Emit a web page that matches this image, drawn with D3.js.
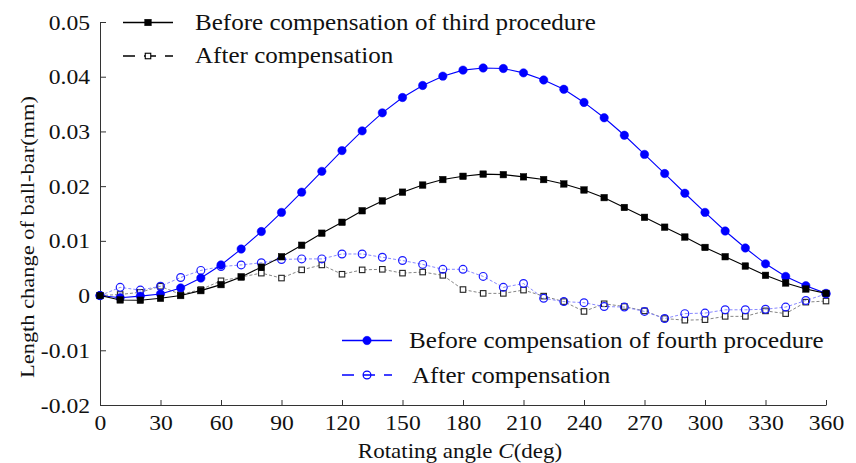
<!DOCTYPE html>
<html><head><meta charset="utf-8">
<script src="https://cdn.jsdelivr.net/npm/d3@7"></script>
<style>body{margin:0;background:#fff}svg{display:block}</style>
</head><body><svg id="c" width="856" height="463"></svg>
<script>
const angles = [0,10,20,30,40,50,60,70,80,90,100,110,120,130,140,150,160,170,180,190,200,210,220,230,240,250,260,270,280,290,300,310,320,330,340,350,360];
const before3 = [0,-0.0008,-0.00085,-0.0005,0.0,0.0009,0.002,0.0034,0.0052,0.0071,0.0092,0.0114,0.0134,0.0155,0.0173,0.0189,0.0202,0.0212,0.0218,0.0222,0.0221,0.0217,0.0212,0.0204,0.0193,0.0179,0.0161,0.0143,0.0125,0.0107,0.0088,0.0071,0.0054,0.0037,0.0023,0.0012,0.0004];
const after3 = [0,0.0002,0.0006,0.0017,0.0002,0.0011,0.0027,0.0034,0.0041,0.0032,0.0047,0.0056,0.0039,0.0047,0.0048,0.0041,0.0043,0.0037,0.0011,0.0004,0.0004,0.001,-0.0001,-0.0011,-0.0029,-0.0015,-0.002,-0.0028,-0.0042,-0.0045,-0.0044,-0.0038,-0.0038,-0.0028,-0.0033,-0.0012,-0.001];
const before4 = [0,-0.0004,-0.0001,0.0003,0.0014,0.0032,0.0056,0.0085,0.0117,0.0152,0.0189,0.0227,0.0265,0.0301,0.0334,0.0362,0.0384,0.0401,0.0412,0.0416,0.0415,0.0407,0.0394,0.0377,0.0353,0.0325,0.0293,0.0258,0.0223,0.0187,0.0152,0.0118,0.0087,0.0058,0.0035,0.0018,0.0004];
const after4 = [0,0.0015,0.001,0.0017,0.0033,0.0046,0.0053,0.0056,0.006,0.0066,0.0067,0.0067,0.0076,0.0076,0.007,0.0064,0.0057,0.0048,0.0048,0.0035,0.0015,0.0022,-0.0005,-0.0011,-0.0013,-0.002,-0.0021,-0.0029,-0.0042,-0.0033,-0.0032,-0.0026,-0.0026,-0.0025,-0.0021,-0.0009,0.0003];
const xTicks = [0,30,60,90,120,150,180,210,240,270,300,330,360];
const yTicks = [-0.02,-0.01,0,0.01,0.02,0.03,0.04,0.05];
const legendTop = ["Before compensation of third procedure","After compensation"];
const legendBottom = ["Before compensation of fourth procedure","After compensation"];

const FONT = '"Liberation Serif","Times New Roman",Times,serif';
const svg = d3.select("#c");
const x = d3.scaleLinear().domain([0,360]).range([100,826]);
const y = d3.scaleLinear().domain([-0.02,0.05]).range([405,22]);

// axes
const TICK_SX = 1.18;
const xAxis = d3.axisBottom(x).tickValues(xTicks).tickSizeInner(-5).tickSizeOuter(0).tickPadding(11).tickFormat(d3.format("d"));
const gx = svg.append("g").attr("transform","translate(0,405)").call(xAxis);
const yAxis = d3.axisLeft(y).tickValues(yTicks).tickSizeInner(-6).tickSizeOuter(0).tickPadding(8.5)
  .tickFormat(d=>d===0?"0":d3.format(".2f")(d).replace("\u2212","-"));
const gy = svg.append("g").attr("transform","translate(100,0)").call(yAxis);
[gx,gy].forEach(g=>{
  g.selectAll("path,line").attr("stroke","#333").attr("stroke-width",1);
  g.selectAll("text").style("font-family",FONT).style("font-size","20px").attr("fill","#111").attr("transform",`scale(${TICK_SX},1)`);
});
gx.selectAll("text").attr("dy","0.71em");
gy.selectAll("text").attr("dy","0.35em");

function stext(px,py,anchor,size,sx,rot){
  return svg.append("g").attr("transform",`translate(${px},${py})${rot?" rotate(-90)":""} scale(${sx},1)`)
    .append("text").attr("text-anchor",anchor).style("font-family",FONT).style("font-size",size+"px").attr("fill","#111");
}
stext(460,458,"middle",20,1.15,false).html('Rotating angle <tspan font-style="italic">C</tspan>(deg)');
stext(33.5,237,"middle",19.5,1.15,true).text("Length change of ball-bar(mm)");

const line = d3.line().x((d,i)=>x(angles[i])).y(d=>y(d));
function drawMarkers(g,pts,color,marker,filled){
  pts.forEach(([px,py])=>{
    if(marker==="circle"){
      g.append("circle").attr("cx",px).attr("cy",py).attr("r",filled?4.2:3.9)
        .attr("fill",filled?color:"none").attr("stroke",color).attr("stroke-width",filled?0.5:1.2);
    } else {
      const s = filled?6.5:5.5;
      g.append("rect").attr("x",px-s/2).attr("y",py-s/2).attr("width",s).attr("height",s)
        .attr("fill",filled?color:"#fff").attr("stroke",color).attr("stroke-width",filled?0.5:1.1);
    }
  });
}
function series(vals,lineColor,markColor,dash,width,marker,filled){
  const g = svg.append("g");
  g.append("path").datum(vals).attr("d",line).attr("fill","none").attr("stroke",lineColor).attr("stroke-width",width).attr("stroke-dasharray",dash);
  drawMarkers(g,vals.map((v,i)=>[x(angles[i]),y(v)]),markColor,marker,filled);
}
series(after3,"#777","#222","3,2",0.9,"square",false);
series(after4,"#7a7aff","#1a1aff","3,2",0.9,"circle",false);
series(before4,"#0000ff","#0000ff",null,1.1,"circle",true);
series(before3,"#000","#000",null,1.1,"square",true);

// legends
function legend(x0,x1,ly,ty,color,dash,marker,filled,label,tx){
  const g = svg.append("g");
  g.append("line").attr("x1",x0).attr("x2",x1).attr("y1",ly).attr("y2",ly).attr("stroke",color).attr("stroke-width",1.3).attr("stroke-dasharray",dash);
  drawMarkers(g,[[(x0+x1)/2,ly]],color,marker,filled);
  stext(tx,ty,"start",23,1.09,false).text(label);
}
legend(123,173,22.5,29.5,"#000",null,"square",true,legendTop[0],195);
legend(123,173,56,63,"#000","12,9","square",false,legendTop[1],195);
legend(342,392,340.5,347.5,"#0000ff",null,"circle",true,legendBottom[0],409);
legend(342,392,375,382.5,"#0000ff","12,9","circle",false,legendBottom[1],412);
</script></body></html>
